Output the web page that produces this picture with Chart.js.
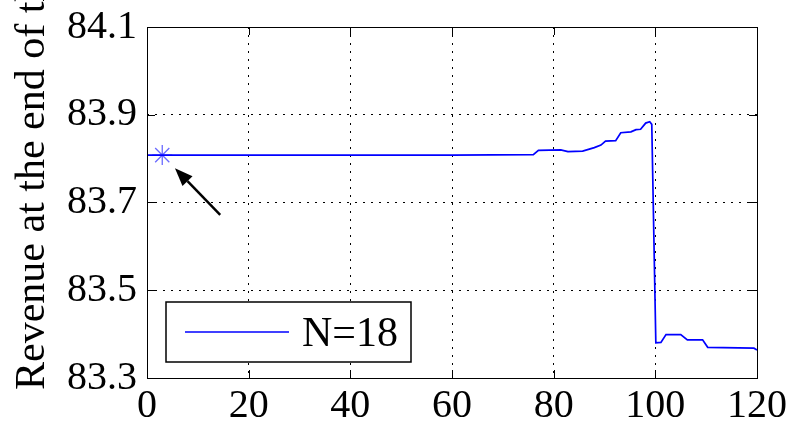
<!DOCTYPE html>
<html>
<head>
<meta charset="utf-8">
<script src="https://cdn.jsdelivr.net/npm/chart.js@4.4.1/dist/chart.umd.min.js"></script>
<style>
  html, body { margin: 0; padding: 0; background: #fff; }
  #wrap { width: 792px; height: 425px; }
</style>
</head>
<body>
<div id="wrap"><canvas id="revChart" width="792" height="425"></canvas></div>
<script>
// revenue curve, N=18 (breakpoints)
const revX = [0, 60, 76, 77, 81.4, 82.8, 85.7, 88, 89.3, 90.2, 92.2, 93.2, 95.2, 96.2, 97.1, 98.1, 98.9, 99.3,
              100.1, 101.1, 102.1, 105, 106.3, 109.3, 110.3, 119.4, 120];
const revY = [83.808, 83.808, 83.809, 83.819, 83.820, 83.816, 83.817, 83.825, 83.831, 83.840, 83.841, 83.859,
              83.861, 83.866, 83.867, 83.881, 83.884, 83.878, 83.380, 83.381, 83.399, 83.399, 83.387, 83.387,
              83.370, 83.368, 83.364];
const markX = [3];
const markY = [83.808];
const seriesLabel = 'N=18';
const yTicks = [83.3, 83.5, 83.7, 83.9, 84.1];
const xTicks = [0, 20, 40, 60, 80, 100, 120];
const yLabel = 'Revenue at the end of the horizon';
// arrow annotation [tail, tip] in data units
const arrowFrom = [14.4, 83.672];
const arrowTo = [5.5, 83.778];

const serif = "'Liberation Serif', 'Times New Roman', serif";

// box, inner ticks, arrow, legend and rotated y label
const decorPlugin = {
    id: 'decor',
    afterDraw(chart) {
        const ctx = chart.ctx;
        const a = chart.chartArea;
        const xs = chart.scales.x, ys = chart.scales.y;
        ctx.save();
        ctx.strokeStyle = '#000';
        ctx.lineWidth = 1;
        ctx.strokeRect(Math.round(a.left) + 0.5, Math.round(a.top) + 0.5,
                       Math.round(a.right - a.left), Math.round(a.bottom - a.top));
        const tl = 8;
        ctx.beginPath();
        xTicks.forEach(v => {
            const px = Math.round(xs.getPixelForValue(v)) + 0.5;
            ctx.moveTo(px, a.bottom); ctx.lineTo(px, a.bottom - tl);
            ctx.moveTo(px, a.top); ctx.lineTo(px, a.top + tl);
        });
        yTicks.forEach(v => {
            const py = Math.round(ys.getPixelForValue(v)) + 0.5;
            ctx.moveTo(a.left, py); ctx.lineTo(a.left + tl, py);
            ctx.moveTo(a.right, py); ctx.lineTo(a.right - tl, py);
        });
        ctx.stroke();

        // arrow
        const x0 = xs.getPixelForValue(arrowFrom[0]), y0 = ys.getPixelForValue(arrowFrom[1]);
        const x1 = xs.getPixelForValue(arrowTo[0]), y1 = ys.getPixelForValue(arrowTo[1]);
        const ang = Math.atan2(y1 - y0, x1 - x0);
        const hl = 18, hw = 7;
        const bx = x1 - hl * Math.cos(ang), by = y1 - hl * Math.sin(ang);
        ctx.lineWidth = 2.5;
        ctx.beginPath();
        ctx.moveTo(x0, y0); ctx.lineTo(bx, by);
        ctx.stroke();
        ctx.fillStyle = '#000';
        ctx.beginPath();
        ctx.moveTo(x1, y1);
        ctx.lineTo(bx + hw * Math.sin(ang), by - hw * Math.cos(ang));
        ctx.lineTo(bx - hw * Math.sin(ang), by + hw * Math.cos(ang));
        ctx.closePath();
        ctx.fill();

        // legend box
        ctx.lineWidth = 1.5;
        ctx.fillStyle = '#fff';
        ctx.fillRect(166, 302, 245, 60);
        ctx.strokeRect(166, 302, 245, 60);
        ctx.strokeStyle = '#0000ff';
        ctx.lineWidth = 1.5;
        ctx.beginPath();
        ctx.moveTo(185, 332); ctx.lineTo(289, 332);
        ctx.stroke();
        ctx.fillStyle = '#000';
        ctx.font = '42px ' + serif;
        ctx.textBaseline = 'alphabetic';
        ctx.textAlign = 'left';
        ctx.fillText(seriesLabel, 302, 346);

        // y axis title, starts at bottom and runs off the top
        ctx.translate(44, 390);
        ctx.rotate(-Math.PI / 2);
        ctx.font = '42px ' + serif;
        ctx.fillText(yLabel, 0, 0);
        ctx.restore();
    }
};

const ctx = document.getElementById('revChart').getContext('2d');
new Chart(ctx, {
    type: 'line',
    data: {
        datasets: [
            {
                label: seriesLabel,
                data: revX.map((x, i) => ({ x: x, y: revY[i] })),
                borderColor: '#0000ff',
                borderWidth: 1.7,
                pointRadius: 0,
                tension: 0,
                fill: false
            },
            {
                label: 'start',
                data: markX.map((x, i) => ({ x: x, y: markY[i] })),
                showLine: false,
                pointStyle: 'star',
                pointRadius: 10,
                borderColor: '#6a6aff',
                borderWidth: 1.3
            }
        ]
    },
    options: {
        responsive: false,
        animation: false,
        layout: { padding: { top: 27, right: 35, bottom: 0, left: 0 } },
        plugins: {
            legend: { display: false },
            tooltip: { enabled: false }
        },
        scales: {
            x: {
                type: 'linear',
                min: 0, max: 120,
                afterBuildTicks: s => { s.ticks = xTicks.map(v => ({ value: v })); },
                afterFit: s => { s.height = 47; s.paddingLeft = 0; s.paddingRight = 0; },
                grid: {
                    color: c => (c.tick && (c.tick.value === 0 || c.tick.value === 120)) ? 'rgba(0,0,0,0)' : '#000',
                    lineWidth: 1,
                    drawTicks: false
                },
                border: { display: false, dash: [2, 6] },
                ticks: {
                    padding: 4,
                    color: '#000',
                    font: { family: serif, size: 40 },
                    maxRotation: 0
                }
            },
            y: {
                min: 83.3, max: 84.1,
                afterBuildTicks: s => { s.ticks = yTicks.map(v => ({ value: v })); },
                afterFit: s => { s.width = 147; s.paddingTop = 0; s.paddingBottom = 0; },
                grid: {
                    color: c => (c.tick && (c.tick.value === 83.3 || c.tick.value === 84.1)) ? 'rgba(0,0,0,0)' : '#000',
                    lineWidth: 1,
                    drawTicks: false
                },
                border: { display: false, dash: [2, 6] },
                ticks: {
                    padding: 10,
                    color: '#000',
                    font: { family: serif, size: 40 },
                    callback: v => Number(v).toFixed(1)
                }
            }
        }
    },
    plugins: [decorPlugin]
});
</script>
</body>
</html>
